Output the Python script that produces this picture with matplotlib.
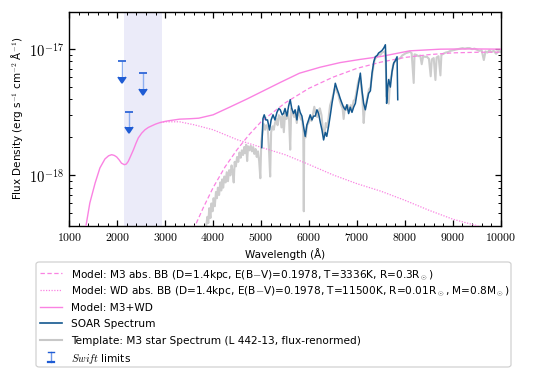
import matplotlib
matplotlib.use("Agg")
import matplotlib.pyplot as plt
import numpy as np
from matplotlib.lines import Line2D
from matplotlib.patches import FancyBboxPatch
from matplotlib.ticker import FixedLocator, FuncFormatter, AutoMinorLocator, LogLocator, NullFormatter

plt.rcParams['font.family'] = ['DejaVu Sans']
plt.rcParams['mathtext.fontset'] = 'cm'

U = 1e-18  # unit of the flux lists below

# ---------------- data ----------------
# Model: M3 + WD (solid)
sum_wl = [1320, 1350, 1430, 1540, 1640, 1745, 1820, 1885, 1940, 1990, 2040, 2090, 2150, 2190, 2230,
          2280, 2340, 2390, 2440, 2510, 2580, 2650, 2720, 2800, 2890, 3000, 3100, 3300, 3500, 3700,
          4000, 4350, 4700, 5050, 5400, 5800, 6235, 6650, 7070, 7500, 8100, 8740, 9370, 10000]
sum_fx = [0.35, 0.40, 0.605, 0.87, 1.146, 1.35, 1.43, 1.46, 1.44, 1.40, 1.33, 1.25, 1.216, 1.23, 1.29,
          1.42, 1.60, 1.79, 1.98, 2.16, 2.30, 2.40, 2.47, 2.55, 2.62, 2.68, 2.72, 2.79, 2.81, 2.84,
          3.02, 3.48, 4.02, 4.68, 5.45, 6.45, 7.20, 7.83, 8.30, 8.75, 9.70, 10.0, 10.05, 10.0]

# Model: M3 abs. BB (dashed)
m3_wl = [3550, 3600, 3800, 4000, 4250, 4500, 4750, 5000, 5500, 6000, 6500, 7000, 7500, 8000, 8500,
         9000, 9500, 10000]
m3_fx = [0.33, 0.38, 0.56, 0.80, 1.17, 1.60, 2.10, 2.66, 3.75, 4.90, 6.00, 7.05, 7.90, 8.60, 9.05,
         9.35, 9.45, 9.47]

# Model: WD abs. BB (dotted)
wd_wl = [2900, 3000, 3300, 3600, 4000, 4500, 5000, 5500, 6000, 6500, 7000, 7500, 8000, 8500, 9000,
         9500, 10000]
wd_fx = [2.62, 2.66, 2.66, 2.52, 2.30, 1.92, 1.67, 1.46, 1.22, 1.01, 0.86, 0.75, 0.635, 0.53, 0.45,
         0.40, 0.36]

# SOAR spectrum
soar_wl = [5015, 5040, 5066, 5100, 5135, 5177, 5210, 5250, 5290, 5331, 5370, 5400, 5440, 5468, 5500,
           5539, 5575, 5608, 5640, 5677, 5710, 5748, 5782, 5815, 5852, 5890, 5921, 5955, 5991, 6025,
           6061, 6095, 6130, 6165, 6200, 6235, 6270, 6304, 6340, 6370, 6408, 6445, 6479, 6515, 6548,
           6580, 6617, 6650, 6688, 6720, 6757, 6790, 6826, 6860, 6896, 6930, 6966, 7000, 7035, 7070,
           7105, 7139, 7174, 7210, 7243, 7280, 7314, 7350, 7383, 7420, 7452, 7490, 7522, 7560, 7592,
           7605, 7618, 7640, 7661, 7696, 7730, 7766, 7801, 7836, 7850]
soar_fx = [1.66, 2.82, 3.02, 2.75, 2.75, 2.29, 2.75, 3.02, 2.75, 3.16, 3.39, 3.31, 3.02, 3.09, 3.39,
           2.95, 3.55, 3.98, 3.39, 3.09, 3.31, 2.75, 3.55, 3.16, 2.95, 2.40, 2.04, 2.51, 2.75, 3.02,
           2.75, 2.95, 2.95, 3.31, 3.09, 2.63, 2.29, 1.91, 2.19, 2.04, 2.45, 3.02, 3.72, 4.47, 5.37,
           4.90, 4.47, 4.07, 3.72, 3.47, 3.31, 3.63, 3.09, 3.47, 3.16, 3.47, 3.72, 4.47, 5.37, 6.46,
           4.68, 3.72, 3.31, 3.89, 4.47, 4.68, 6.46, 7.94, 8.71, 8.91, 9.33, 9.55, 9.77, 10.23, 10.84,
           7.94, 3.72, 5.01, 5.75, 5.01, 6.61, 7.76, 8.13, 8.71, 3.98]

# Template: M3 star spectrum (L 442-13)
tpl_wl = [3850, 3880, 3900, 3920, 3945, 3965, 3990, 4010, 4035, 4060, 4080, 4100, 4125, 4150, 4170,
          4190, 4210, 4235, 4260, 4285, 4310, 4335, 4360, 4385, 4410, 4430, 4450, 4475, 4500, 4525,
          4550, 4575, 4600, 4625, 4650, 4670, 4690, 4710, 4730, 4760, 4785, 4810, 4835, 4860, 4885,
          4910, 4935, 4960, 4985, 5005, 5030, 5060, 5085, 5110, 5140, 5165, 5190, 5210, 5240, 5265,
          5290, 5320, 5345, 5370, 5400, 5425, 5450, 5475, 5500, 5530, 5560, 5585, 5608, 5630, 5660,
          5690, 5715, 5745, 5770, 5800, 5830, 5860, 5880, 5891, 5900, 5930, 5960, 5990, 6020, 6050,
          6080, 6110, 6140, 6170, 6200, 6225, 6260, 6290, 6320, 6350, 6380, 6410, 6440, 6470, 6500,
          6530, 6555, 6580, 6610, 6640, 6670, 6700, 6722, 6750, 6780, 6810, 6840, 6870, 6900, 6930,
          6960, 6990, 7020, 7050, 7080, 7110, 7140, 7160, 7190, 7220, 7250, 7280, 7310, 7340, 7370,
          7400, 7430, 7460, 7490, 7520, 7550, 7580, 7600, 7620, 7640, 7662, 7690, 7720, 7750, 7780,
          7810, 7840, 7870, 7905, 7940, 7980, 8020, 8060, 8100, 8140, 8183, 8200, 8240, 8280, 8320,
          8350, 8380, 8420, 8460, 8500, 8537, 8560, 8600, 8636, 8660, 8700, 8740, 8760, 8800, 8850,
          8900, 8950, 9000, 9050, 9100, 9150, 9200, 9250, 9300, 9350, 9400, 9450, 9500, 9550, 9600,
          9645, 9680, 9720, 9760, 9800, 9850, 9900, 9950, 10000]
tpl_fx = [0.38, 0.47, 0.42, 0.55, 0.46, 0.60, 0.52, 0.66, 0.57, 0.74, 0.66, 0.80, 0.70, 0.88, 0.76,
          0.93, 0.80, 0.98, 0.88, 1.06, 0.90, 1.10, 1.00, 1.20, 1.05, 0.88, 1.28, 1.18, 1.40, 1.28,
          1.52, 1.38, 1.58, 1.45, 1.68, 1.50, 1.75, 1.30, 1.70, 1.58, 1.72, 1.55, 1.68, 1.48, 1.62,
          1.40, 1.55, 1.30, 0.95, 1.85, 2.20, 2.55, 2.30, 2.50, 2.35, 1.60, 0.98, 2.20, 2.45, 2.30,
          2.60, 2.80, 2.50, 3.00, 2.90, 2.40, 2.95, 2.20, 3.10, 2.80, 3.20, 2.70, 1.60, 3.40, 3.10,
          2.90, 3.20, 2.60, 3.30, 3.00, 2.80, 2.70, 2.20, 0.52, 2.10, 2.00, 2.50, 2.60, 2.90, 2.70,
          3.00, 3.50, 3.10, 2.90, 3.20, 3.40, 3.00, 2.30, 2.10, 2.60, 2.40, 2.90, 3.60, 3.90, 4.30,
          4.80, 5.00, 4.60, 4.40, 3.90, 3.60, 3.40, 2.80, 3.50, 3.30, 3.60, 3.20, 3.60, 3.40, 3.90,
          4.00, 4.60, 5.40, 5.90, 5.50, 4.30, 2.60, 3.40, 3.70, 4.20, 4.80, 5.00, 6.00, 7.20, 8.30,
          8.60, 8.80, 9.10, 9.00, 9.40, 9.50, 9.60, 8.00, 4.20, 5.30, 3.70, 5.60, 6.20, 7.40, 7.90,
          8.10, 8.30, 8.40, 8.50, 8.90, 9.10, 9.30, 9.40, 9.55, 9.30, 5.40, 9.10, 9.00, 8.80, 8.90,
          7.60, 8.80, 8.70, 8.70, 8.40, 6.10, 8.30, 8.50, 5.70, 8.60, 8.80, 6.20, 9.00, 9.20, 9.40,
          9.50, 9.70, 9.80, 9.90, 10.0, 10.1, 10.2, 10.1, 10.2, 10.2, 10.0, 10.1, 9.90, 9.70, 9.80,
          8.20, 9.60, 9.40, 9.80, 9.50, 9.70, 9.20, 9.60, 9.50]

# Swift upper limits: wavelength, limit value, arrow length
swift_wl = [2103, 2240, 2532]
swift_lim = [8.0, 3.2, 6.5]
swift_len = [2.0, 0.8, 1.65]

# Shaded band
band_lo, band_hi = 2142, 2942

xticks = [1000, 2000, 3000, 4000, 5000, 6000, 7000, 8000, 9000, 10000]
yticks = [1e-18, 1e-17]
yticklabels = [r'$10^{-18}$', r'$10^{-17}$']

legend_labels = [
    r'Model: M3 abs. BB (D=1.4kpc, E(B$-$V)=0.1978, T=3336K, R=0.3R$_\odot$)',
    r'Model: WD abs. BB (D=1.4kpc, E(B$-$V)=0.1978, T=11500K, R=0.01R$_\odot$, M=0.8M$_\odot$)',
    'Model: M3+WD',
    'SOAR Spectrum',
    'Template: M3 star Spectrum (L 442-13, flux-renormed)',
    r'$\mathit{Swift}$ limits',
]

PINK = '#fa82e2'
SOAR_C = '#13588f'
SWIFT_C = '#1f5cd4'
GRAY = '#c8c8c8'
DASH = (0, (3.5, 2))
DOT = (0, (1, 1.2))

# ---------------- figure ----------------
fig = plt.figure(figsize=(5.45, 3.78), dpi=100)
ax = fig.add_axes([0.127, 0.403, 0.792, 0.566])

ax.axvspan(band_lo, band_hi, color='#ebebf9', zorder=0, lw=0)

ax.plot(m3_wl, np.array(m3_fx) * U, color=PINK, ls=DASH, lw=0.9, zorder=3)
ax.plot(wd_wl, np.array(wd_fx) * U, color=PINK, ls=DOT, lw=0.9, zorder=3)
ax.plot(sum_wl, np.array(sum_fx) * U, color=PINK, lw=1.0, zorder=3)
ax.plot(soar_wl, np.array(soar_fx) * U, color=SOAR_C, lw=1.1, zorder=4)
ax.plot(tpl_wl, np.array(tpl_fx) * U, color=GRAY, lw=1.5, alpha=0.9, zorder=2)

lim = np.array(swift_lim) * U
eb = ax.errorbar(swift_wl, lim, yerr=np.array(swift_len) * U, uplims=True, fmt='none',
                 ecolor=SWIFT_C, elinewidth=1.0, capsize=3, capthick=1.2, zorder=5)
for bl in eb[2]:
    bl.set_color('#8eaef0')
for cl in eb[1]:
    cl.set_color(SWIFT_C)
    cl.set_markersize(6)

ax.set_yscale('log')
ax.set_xlim(1000, 10000)
ax.set_ylim(4.0e-19, 1.98e-17)

ax.xaxis.set_major_locator(FixedLocator(xticks))
ax.xaxis.set_major_formatter(FuncFormatter(lambda v, p: r'$%d$' % int(round(v))))
ax.xaxis.set_minor_locator(AutoMinorLocator(5))
ax.yaxis.set_major_locator(FixedLocator(yticks))
ax.set_yticklabels(yticklabels)
ax.yaxis.set_minor_locator(LogLocator(base=10, subs=np.arange(2, 10)))
ax.yaxis.set_minor_formatter(NullFormatter())

ax.tick_params(which='both', direction='in', top=True, right=True)
ax.tick_params(axis='x', labelsize=8.5)
ax.tick_params(axis='y', labelsize=10.5)
ax.tick_params(which='major', length=4, width=0.9)
ax.tick_params(which='minor', length=2.2, width=0.7)
for s in ax.spines.values():
    s.set_linewidth(1.0)

ax.set_xlabel('Wavelength (Å)', fontsize=7.5, labelpad=3)
ax.set_ylabel(r'Flux Density (erg s$^{-1}$ cm$^{-2}$ Å$^{-1}$)', fontsize=7.5, labelpad=3)

# ---------------- legend (below the axes, evenly spaced rows) ----------------
W, H = 545.0, 378.0
def fx(px):
    return px / W
def fy(py):
    return 1 - py / H

box = FancyBboxPatch((fx(36), fy(367)), fx(511) - fx(36), fy(262) - fy(367),
                     boxstyle='round,pad=0,rounding_size=0.006', transform=fig.transFigure,
                     facecolor='white', edgecolor='#cccccc', lw=0.8, zorder=1)
fig.patches.append(box)

row_y = [273.3, 290.0, 306.7, 323.3, 340.0, 356.7]
h0, h1, tx = 40, 62, 71
styles = [dict(color=PINK, ls=DASH, lw=0.9), dict(color=PINK, ls=DOT, lw=0.9),
          dict(color=PINK, lw=1.0), dict(color=SOAR_C, lw=1.2), dict(color=GRAY, lw=1.5)]
for i, lab in enumerate(legend_labels):
    yy = row_y[i]
    if i < 5:
        fig.add_artist(Line2D([fx(h0), fx(h1)], [fy(yy), fy(yy)], transform=fig.transFigure, **styles[i]))
    else:
        xc = (h0 + h1) / 2
        fig.add_artist(Line2D([fx(xc), fx(xc)], [fy(yy - 5), fy(yy + 5)], transform=fig.transFigure,
                              color='#6f98e8', lw=1.0))
        fig.add_artist(Line2D([fx(xc - 3), fx(xc + 3)], [fy(yy - 5), fy(yy - 5)], transform=fig.transFigure,
                              color=SWIFT_C, lw=1.0))
        fig.add_artist(Line2D([fx(xc - 3), fx(xc + 3)], [fy(yy + 5), fy(yy + 5)], transform=fig.transFigure,
                              color=SWIFT_C, lw=1.6))
    fig.text(fx(tx), fy(yy), lab, fontsize=7.6, va='center_baseline', ha='left')

fig.savefig('out.png', dpi=100)
